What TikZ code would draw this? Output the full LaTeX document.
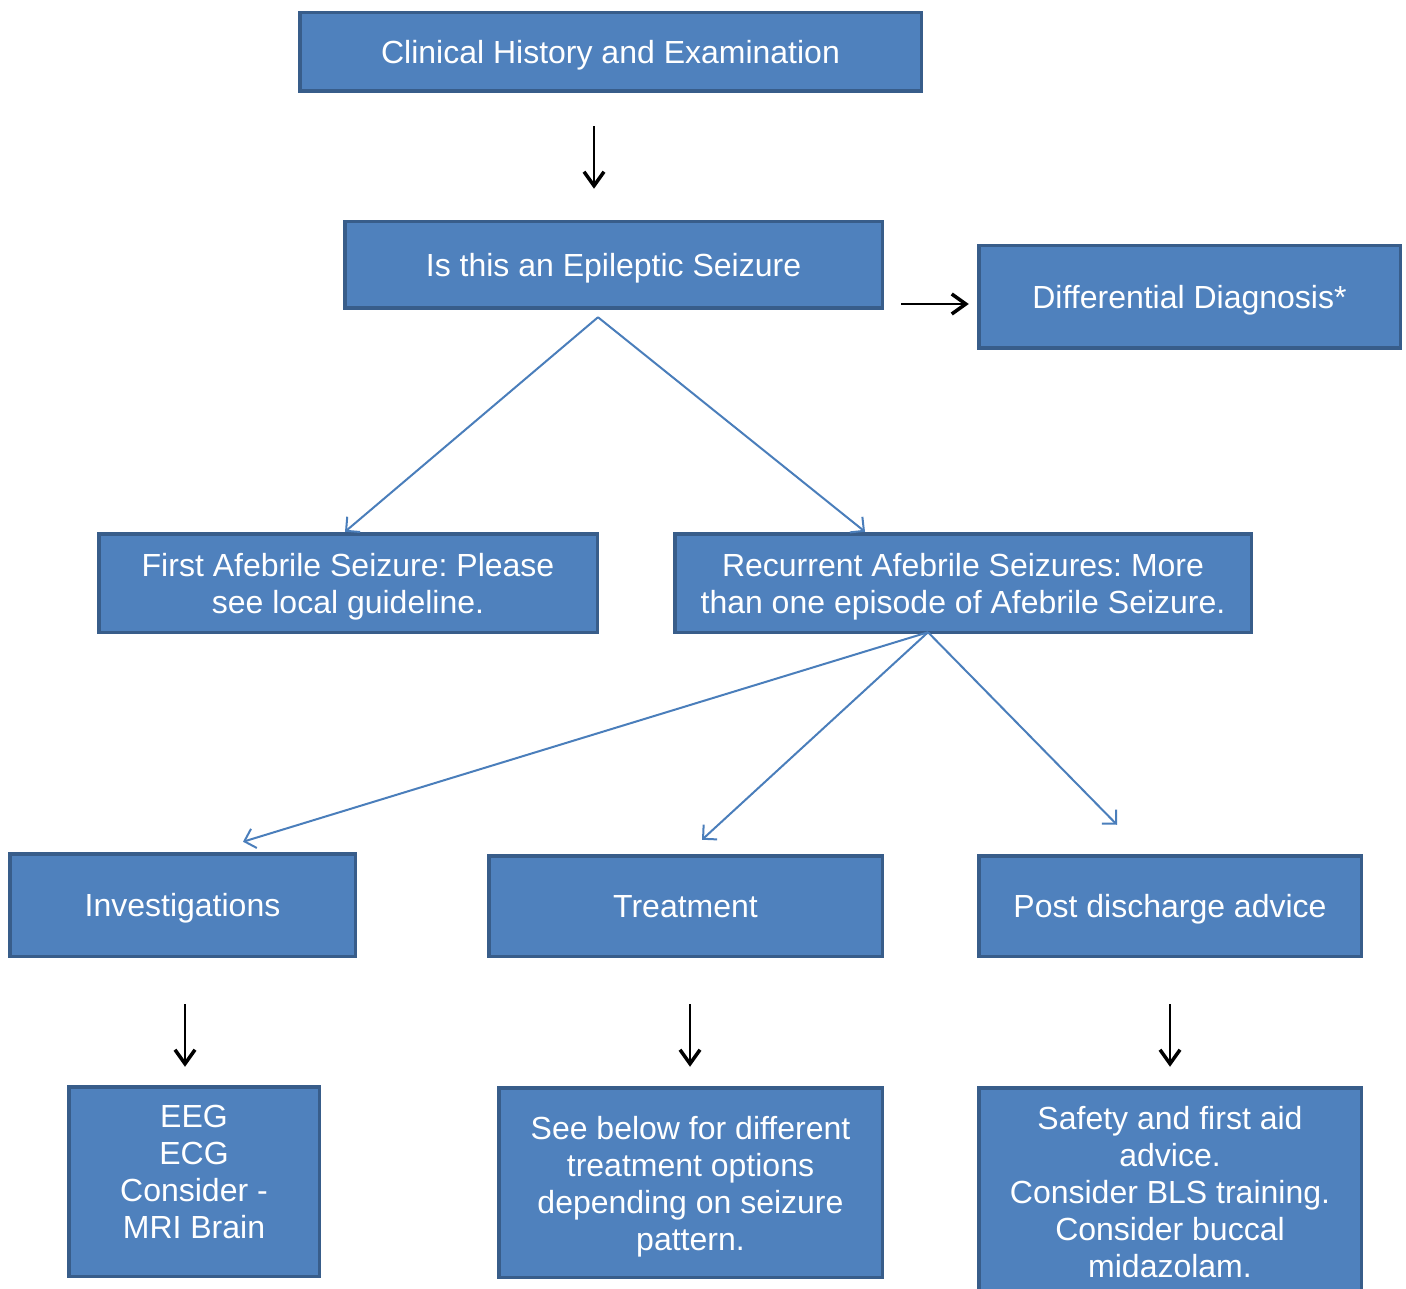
\documentclass[tikz,border=0pt]{standalone}
\usepackage{fontspec}
\setmainfont{Liberation Sans}
\usetikzlibrary{arrows.meta,calc}
\frenchspacing
\definecolor{boxfill}{HTML}{4F81BD}
\definecolor{boxline}{HTML}{385D8A}
\definecolor{linkblue}{HTML}{4A7EBB}
\tikzset{
  box/.style={draw=boxline, fill=boxfill, line width=3.5pt, inner sep=0pt, outer sep=0pt,
    text=white, align=center, text depth=0pt, font=\fontsize{32}{37}\selectfont\frenchspacing},
  boxtext/.style={inner sep=0pt, outer sep=0pt, text=white, align=center, font=\fontsize{32}{37}\selectfont\frenchspacing},
  link/.style={draw=linkblue, line width=2pt, -{Straight Barb[length=10pt,width=20pt,line width=2pt]}},
  blackarrow/.style={draw=black, line width=2.8pt, -{Straight Barb[length=14pt,width=20pt,line width=3.5pt]}},
}
\begin{document}
\begin{tikzpicture}[x=1pt,y=-1pt]
\useasboundingbox (0,0) rectangle (1406,1289);
\clip (0,0) rectangle (1406,1289);

% boxes
\node[box, minimum width=621.5, minimum height=78.5] (clin) at (610.5,52) {Clinical History and Examination};
\node[box, minimum width=537.5, minimum height=86.5] (epi) at (613.5,265) {Is this an Epileptic Seizure};
\node[box, minimum width=421.5, minimum height=102.5] (diff) at (1189.5,297) {Differential Diagnosis*};
\node[box, minimum width=498.5, minimum height=98.5] (first) at (348,583) {First Afebrile Seizure: Please\\see local guideline.};
\node[box, minimum width=576.5, minimum height=98.5] (recur) at (963,583) {Recurrent Afebrile Seizures: More\\than one episode of Afebrile Seizure.};
\node[box, minimum width=345.5, minimum height=102.5] (inv) at (182.5,905) {Investigations};
\node[box, minimum width=393.5, minimum height=100.5] (treat) at (685.5,906) {Treatment};
\node[box, minimum width=382.5, minimum height=100.5] (post) at (1170,906) {Post discharge advice};
\node[box, minimum width=250.5, minimum height=189.5] (eeg) at (194,1181.5) {};
\node[box, minimum width=383.5, minimum height=189.5] (see) at (690.5,1182.5) {};
\node[box, minimum width=382.5, minimum height=226.5] (safe) at (1170,1201) {};
\node[boxtext] (eegtxt) at (194,1172) {EEG\\ECG\\Consider -\\MRI Brain};
\node[boxtext] (seetxt) at (690.5,1187) {See below for different\\treatment options\\depending on seizure\\pattern.};
\node[boxtext] (safetxt) at (1170,1192) {Safety and first aid\\advice.\\Consider BLS training.\\Consider buccal\\midazolam.};

% black arrows (free-floating)
\coordinate (a1s) at ($(clin.south)+(-16.5,35)$);
\coordinate (a1e) at ($(epi.north)+(-19.5,-33)$);
\draw[blackarrow] (a1s) -- (a1e);
\coordinate (a2s) at ($(epi.east)+(19,39)$);
\coordinate (a2e) at ($(diff.west)+(-10,7)$);
\draw[blackarrow] (a2s) -- (a2e);
\coordinate (a3s) at ($(inv.south)+(2.5,48)$);
\coordinate (a3e) at ($(eeg.north)+(-9,-20)$);
\draw[blackarrow] (a3s) -- (a3e);
\coordinate (a4s) at ($(treat.south)+(4.5,48)$);
\coordinate (a4e) at ($(see.north)+(-0.5,-21)$);
\draw[blackarrow] (a4s) -- (a4e);
\coordinate (a5s) at ($(post.south)+(0,48)$);
\coordinate (a5e) at ($(safe.north)+(0,-21)$);
\draw[blackarrow] (a5s) -- (a5e);

% blue connectors
\coordinate (epib) at ($(epi.south)+(-15.5,9)$);
\coordinate (firstt) at ($(first.north)+(-3,-2)$);
\coordinate (recurt) at ($(recur.north)+(-98,-2)$);
\draw[link] (epib) -- (firstt);
\draw[link] (epib) -- (recurt);
\coordinate (recb) at ($(recur.south)+(-35,0)$);
\coordinate (invt) at ($(inv.north)+(60.5,-12)$);
\coordinate (treatt) at ($(treat.north)+(16.5,-16)$);
\coordinate (postt) at ($(post.north)+(-53,-31)$);
\draw[link] (recb) -- (invt);
\draw[link] (recb) -- (treatt);
\draw[link] (recb) -- (postt);
\end{tikzpicture}
\end{document}
